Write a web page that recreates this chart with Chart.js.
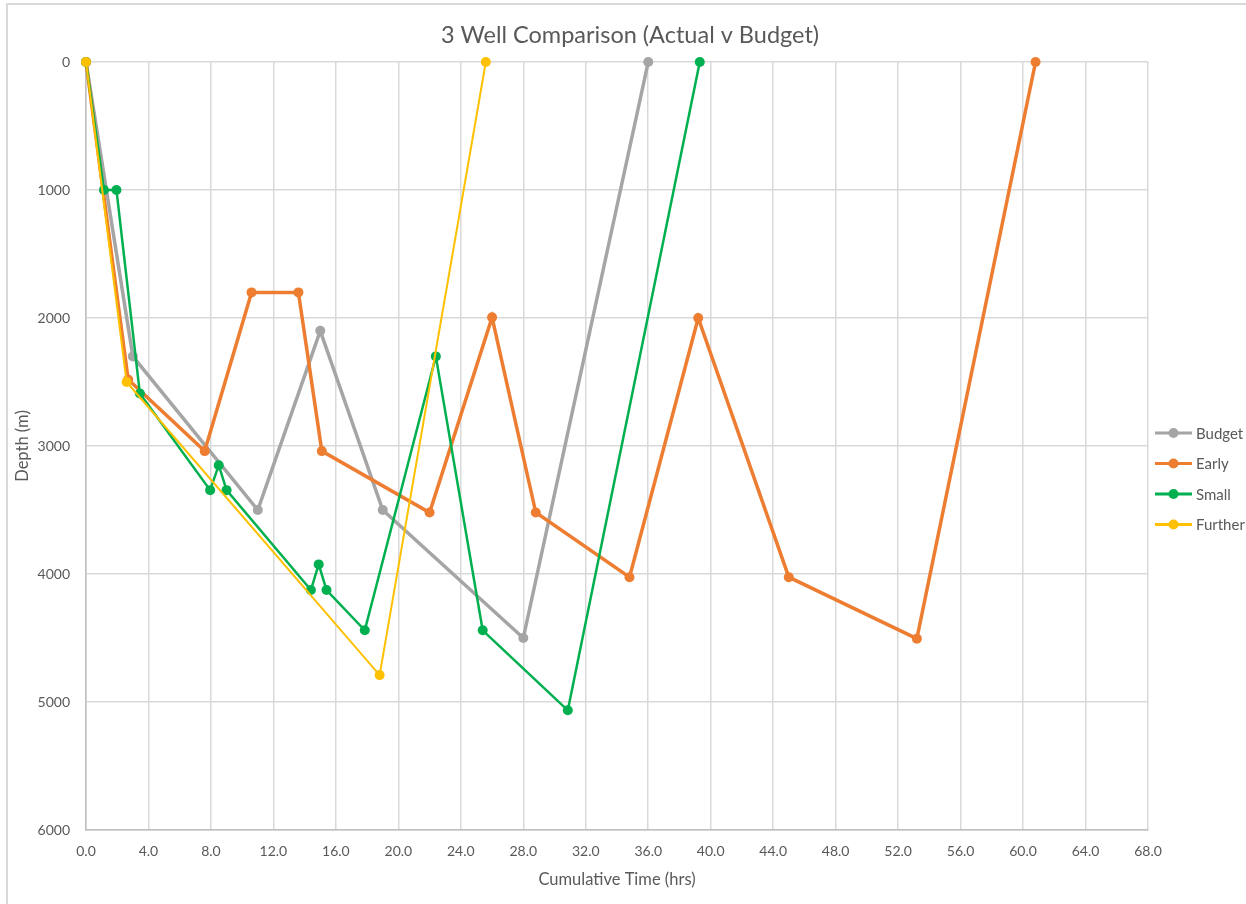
<!DOCTYPE html>
<html>
<head>
<meta charset="utf-8">
<script src="https://cdn.jsdelivr.net/npm/chart.js@4"></script>
<style>
  html, body { margin: 0; padding: 0; background: #fff; overflow: hidden; }
  #frame {
    position: absolute; left: 6px; top: 3px; width: 1300px; height: 960px;
    border-left: 2px solid #d9d9d9; border-top: 2px solid #d9d9d9;
  }
  #wrap { position: absolute; left: 0; top: 0; width: 1246px; height: 904px; }
</style>
</head>
<body>
<div id="frame"></div>
<div id="wrap"><canvas id="chart" width="1246" height="904"></canvas></div>
<script>
const chartTitle = "3 Well Comparison (Actual v Budget)";
const seriesNames = ["Budget", "Early", "Small", "Further"];

const budgetTime  = [0, 3.0, 11.0, 15.0, 19.0, 28.0, 36.0];
const budgetDepth = [0, 2300, 3500, 2100, 3500, 4500, 0];

const earlyTime  = [0, 2.7, 7.6, 10.6, 13.6, 15.1, 22.0, 26.0, 28.8, 34.8, 39.2, 45.0, 53.2, 60.8];
const earlyDepth = [0, 2480, 3040, 1800, 1800, 3040, 3520, 1995, 3520, 4025, 2000, 4025, 4505, 0];

const smallTime  = [0, 1.15, 1.95, 3.45, 7.95, 8.5, 9.0, 14.4, 14.9, 15.4, 17.85, 22.4, 25.4, 30.85, 39.3];
const smallDepth = [0, 1000, 1000, 2590, 3345, 3150, 3345, 4125, 3925, 4125, 4440, 2300, 4440, 5065, 0];

const furtherTime  = [0, 2.6, 18.8, 25.6];
const furtherDepth = [0, 2500, 4790, 0];

const xTicks = [0, 4, 8, 12, 16, 20, 24, 28, 32, 36, 40, 44, 48, 52, 56, 60, 64, 68];
const yTicks = [0, 1000, 2000, 3000, 4000, 5000, 6000];

const colors = ["#a5a5a5", "#ed7d31", "#00b050", "#ffc000"];
const widths = [3.5, 3.5, 2.5, 2];

function pairs(xs, ys) {
  return xs.map((x, i) => ({ x: x, y: ys[i] }));
}

const allData = [
  pairs(budgetTime, budgetDepth),
  pairs(earlyTime, earlyDepth),
  pairs(smallTime, smallDepth),
  pairs(furtherTime, furtherDepth)
];

const FONT = "Lato, 'Open Sans', sans-serif";
const TEXT = "#595959";

// title + legend drawn by hand so they sit where Excel puts them
const extras = {
  id: "extras",
  afterDraw(chart) {
    const c = chart.ctx;
    c.save();
    c.fillStyle = TEXT;
    c.font = "23.5px " + FONT;
    c.textAlign = "center";
    c.textBaseline = "middle";
    c.fillText(chartTitle, 630, 35);

    const x0 = 1155, y0 = 433, gap = 30.5;
    c.font = "15px " + FONT;
    c.textAlign = "left";
    chart.data.datasets.forEach((ds, i) => {
      const y = y0 + i * gap;
      c.strokeStyle = ds.borderColor;
      c.lineWidth = 3;
      c.beginPath();
      c.moveTo(x0, y);
      c.lineTo(x0 + 37, y);
      c.stroke();
      c.fillStyle = ds.borderColor;
      c.beginPath();
      c.arc(x0 + 18.5, y, 5, 0, Math.PI * 2);
      c.fill();
      c.fillStyle = TEXT;
      c.fillText(ds.label, x0 + 41, y + 1);
    });
    c.restore();
  }
};

const chart = new Chart(document.getElementById("chart"), {
  type: "scatter",
  data: {
    datasets: seriesNames.map((name, i) => ({
      label: name,
      data: allData[i],
      showLine: true,
      borderColor: colors[i],
      backgroundColor: colors[i],
      borderWidth: widths[i],
      pointRadius: 5,
      pointHoverRadius: 5,
      pointBorderWidth: 0,
      order: 4 - i,
      clip: false,
      tension: 0
    }))
  },
  options: {
    responsive: false,
    animation: false,
    layout: { padding: { left: 13, right: 98, top: 62, bottom: 0 } },
    plugins: {
      legend: { display: false },
      tooltip: { enabled: false },
      title: { display: false }
    },
    scales: {
      x: {
        type: "linear",
        min: 0,
        max: 68,
        afterBuildTicks: s => { s.ticks = xTicks.map(v => ({ value: v })); },
        afterFit: s => { s.height = 904 - 830; },
        ticks: {
          color: TEXT,
          font: { family: FONT, size: 14 },
          padding: 13,
          maxRotation: 0,
          callback: v => Number(v).toFixed(1)
        },
        grid: { color: "#d9d9d9", lineWidth: 1.5, drawTicks: false },
        border: { color: "#bfbfbf", width: 1.5 },
        title: {
          display: true,
          text: "Cumulative Time (hrs)",
          color: TEXT,
          font: { family: FONT, size: 16.5 },
          padding: { top: 4, bottom: 14 }
        }
      },
      y: {
        type: "linear",
        reverse: true,
        min: 0,
        max: 6000,
        afterBuildTicks: s => { s.ticks = yTicks.map(v => ({ value: v })); },
        afterFit: s => { s.width = 86 - 13; },
        ticks: {
          color: TEXT,
          font: { family: FONT, size: 14 },
          padding: 16,
          callback: v => String(v)
        },
        grid: { color: "#d9d9d9", lineWidth: 1.5, drawTicks: false },
        border: { color: "#bfbfbf", width: 1.5 },
        title: {
          display: true,
          text: "Depth (m)",
          color: TEXT,
          font: { family: FONT, size: 16.5 },
          padding: { top: 0, bottom: 0 }
        }
      }
    }
  },
  plugins: [extras]
});
</script>
</body>
</html>
